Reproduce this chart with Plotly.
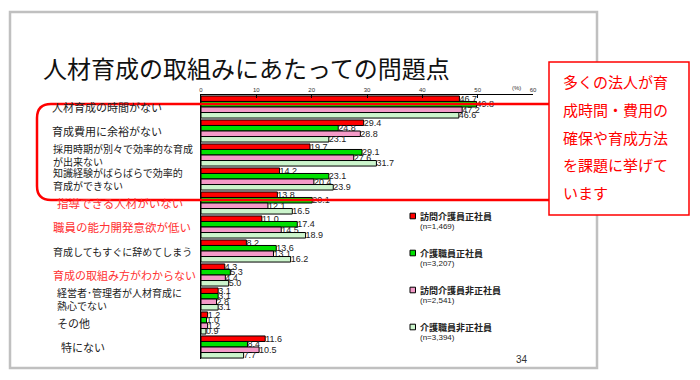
import plotly.graph_objects as go

categories = [
    "人材育成の時間がない",
    "育成費用に余裕がない",
    "採用時期が別々で効率的な育成<br>が出来ない",
    "知識経験がばらばらで効率的<br>育成ができない",
    "指導できる人材がいない",
    "職員の能力開発意欲が低い",
    "育成してもすぐに辞めてしまう",
    "育成の取組み方がわからない",
    "経営者･管理者が人材育成に<br>熱心でない",
    "その他",
    "特にない",
]
label_red = [False, False, False, False, True, True, False, True, False, False, False]

series_names = ["訪問介護員正社員", "介護職員正社員", "訪問介護員非正社員", "介護職員非正社員"]
series_n = ["(n=1,469)", "(n=3,207)", "(n=2,541)", "(n=3,394)"]
visit_regular = [46.7, 29.4, 19.7, 14.2, 13.8, 11.0, 8.2, 4.3, 3.1, 1.2, 11.6]
care_regular = [49.8, 24.8, 29.1, 23.1, 20.1, 17.4, 13.6, 5.3, 3.1, 1.0, 8.4]
visit_nonregular = [47.2, 28.8, 27.6, 20.4, 12.1, 14.5, 13.1, 4.4, 2.8, 1.2, 10.5]
care_nonregular = [46.6, 23.1, 31.7, 23.9, 16.5, 18.9, 16.2, 5.0, 3.1, 0.9, 7.7]
series_values = [visit_regular, care_regular, visit_nonregular, care_nonregular]
colors = ["#FF0000", "#00E000", "#F49AC8", "#CCF5CC"]

x_ticks = [0, 10, 20, 30, 40, 50, 60]

title_text = "人材育成の取組みにあたっての問題点"
callout_lines = ["多くの法人が育", "成時間・費用の", "確保や育成方法", "を課題に挙げて", "います"]
page_no = "34"

W, H = 700, 380
OFF = 8  # page body margin offset
L0, T0, PW, PH = 201, 95, 332, 264  # plot area in screen pixels
L, T = L0 - OFF, T0 - OFF
R, B = W - L - PW, H - T - PH


def px(x):
    return (x - L0) / PW


def py(y):
    return (T0 + PH - y) / PH


JP = "Noto Sans CJK JP"
fig = go.Figure()
for name, vals, col in zip(series_names, series_values, colors):
    fig.add_trace(go.Bar(
        y=categories, x=vals, orientation="h", name=name,
        marker=dict(color=col, line=dict(color="#000000", width=1)),
        text=[f"{v:.1f}" for v in vals], textposition="outside",
        textfont=dict(size=9, color="#222222", family="Liberation Sans"),
        constraintext="none", cliponaxis=False, hoverinfo="skip",
    ))

shapes = []
annotations = []

# slide border
shapes.append(dict(type="rect", xref="paper", yref="paper",
                   x0=px(10), x1=px(597), y0=py(368), y1=py(12),
                   line=dict(color="#C0C0C0", width=2.5), layer="below"))

# title
annotations.append(dict(text=title_text, xref="paper", yref="paper", x=px(41), y=py(68),
                        xanchor="left", yanchor="middle", showarrow=False,
                        font=dict(family=JP, size=24, color="#111111")))

# category labels
label_x = [50, 50, 51, 51, 55, 51, 51, 51, 55, 55, 59]
label_size = [11, 11, 10, 10, 11.5, 11.5, 10, 11, 10, 11, 11]
for i, (c, red) in enumerate(zip(categories, label_red)):
    annotations.append(dict(text=c, xref="paper", yref="y", x=px(label_x[i]), y=c,
                            xanchor="left", yanchor="middle", showarrow=False, align="left",
                            font=dict(family=JP, size=label_size[i],
                                      color=("#FF3030" if red else "#222222"))))

# (%) label
annotations.append(dict(text="(%)", xref="paper", yref="paper", x=px(516), y=py(88),
                        xanchor="center", yanchor="middle", showarrow=False,
                        font=dict(size=6, color="#333333", family="Liberation Sans")))

# legend
leg_y = [216, 253, 290, 327]
for name, n, col, yy in zip(series_names, series_n, colors, leg_y):
    shapes.append(dict(type="rect", xref="paper", yref="paper",
                       x0=px(410), x1=px(415.5), y0=py(yy + 2.8), y1=py(yy - 2.8),
                       fillcolor=col, line=dict(color="#000000", width=1)))
    annotations.append(dict(text="<b>" + name + "</b>", xref="paper", yref="paper", x=px(418), y=py(yy),
                            xanchor="left", yanchor="middle", showarrow=False,
                            font=dict(family=JP, size=9, color="#222222")))
    annotations.append(dict(text=n, xref="paper", yref="paper", x=px(418), y=py(yy + 10),
                            xanchor="left", yanchor="middle", showarrow=False,
                            font=dict(family="Liberation Sans", size=8, color="#222222")))

# page number
annotations.append(dict(text=page_no, xref="paper", yref="paper", x=px(522), y=py(359),
                        xanchor="center", yanchor="middle", showarrow=False,
                        font=dict(family="Liberation Sans", size=10, color="#333333")))

# highlight rounded frame
r = 14
lx, top, bot, right = 37, 104, 200, 549
path = (f"M {px(right)} {py(top)} L {px(lx + r)} {py(top)} "
        f"Q {px(lx)} {py(top)} {px(lx)} {py(top + r)} "
        f"L {px(lx)} {py(bot - r)} "
        f"Q {px(lx)} {py(bot)} {px(lx + r)} {py(bot)} "
        f"L {px(right)} {py(bot)}")
shapes.append(dict(type="path", xref="paper", yref="paper", path=path,
                   line=dict(color="#FF0000", width=2.5), layer="above"))

# callout box
shapes.append(dict(type="rect", xref="paper", yref="paper",
                   x0=px(549), x1=px(689), y0=py(215), y1=py(62),
                   fillcolor="#FFFFFF", line=dict(color="#FF0000", width=1.5), layer="above"))
for k, line in enumerate(callout_lines):
    annotations.append(dict(text=line, xref="paper", yref="paper", x=px(561), y=py(82 + 27.5 * k),
                            xanchor="left", yanchor="middle", showarrow=False,
                            font=dict(family=JP, size=15, color="#FF0000")))

fig.update_layout(
    width=W, height=H, margin=dict(l=L, r=R, t=T, b=B),
    paper_bgcolor="#FFFFFF", plot_bgcolor="#FFFFFF",
    barmode="group", bargap=0.08, bargroupgap=0,
    showlegend=False, shapes=shapes, annotations=annotations,
    xaxis=dict(side="top", range=[0, 60], tickvals=x_ticks, showgrid=False, zeroline=False,
               showline=True, linecolor="#000000", linewidth=1, ticks="inside", ticklen=3,
               tickcolor="#000000", tickfont=dict(size=6, color="#333333", family="Liberation Sans")),
    yaxis=dict(autorange="reversed", showticklabels=False, showgrid=False, zeroline=False,
               showline=True, linecolor="#000000", linewidth=1, ticks=""),
)

fig.write_html("out.html")
